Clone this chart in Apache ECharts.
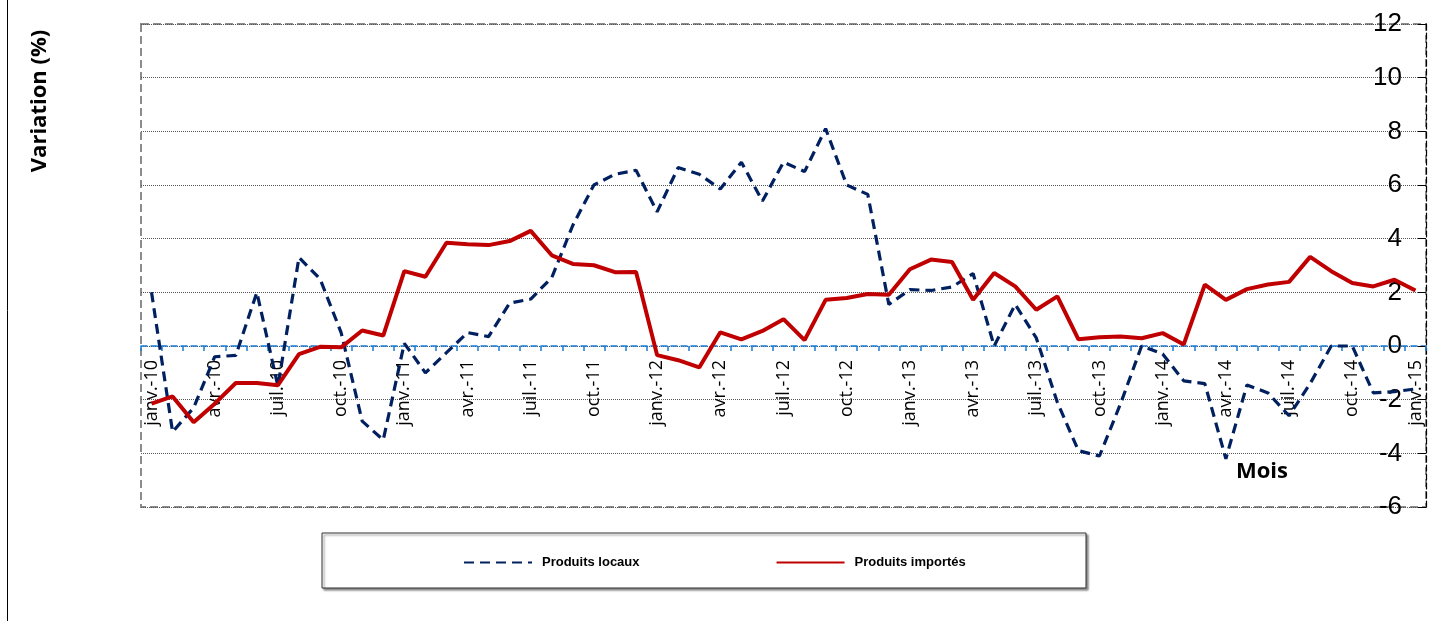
<!DOCTYPE html>
<html>
<head>
<meta charset="utf-8">
<script src="https://cdn.jsdelivr.net/npm/echarts@6/dist/echarts.min.js"></script>
<style>html,body{margin:0;padding:0;background:#fff;}#c{width:1452px;height:621px;}</style>
</head>
<body>
<div id="c"></div>
<script>
const monthAbbr = ['janv.','févr.','mars','avr.','mai','juin','juil.','août','sept.','oct.','nov.','déc.'];
const years = ['10','11','12','13','14','15'];
const categories = [];
years.forEach((y, yi) => monthAbbr.forEach((m, mi) => { if (yi < 5 || mi === 0) categories.push(m + '-' + y); }));

const produitsLocaux = [
  2.0, -3.2, -2.3, -0.4, -0.35, 2.0, -1.5, 3.3, 2.5, 0.5,
  -2.8, -3.5, 0.1, -1.0, -0.25, 0.5, 0.35, 1.6, 1.75, 2.55,
  4.5, 6.0, 6.4, 6.55, 5.0, 6.65, 6.4, 5.85, 6.85, 5.4,
  6.85, 6.5, 8.1, 6.0, 5.65, 1.55, 2.1, 2.07, 2.2, 2.7,
  0.0, 1.55, 0.3, -2.1, -3.9, -4.1, -2.15, 0.0, -0.3, -1.3,
  -1.4, -4.2, -1.45, -1.75, -2.6, -1.4, 0.0, 0.0, -1.75, -1.7, -1.6
];
const produitsImportes = [
  -2.15, -1.88, -2.84, -2.15, -1.38, -1.38, -1.46, -0.3, -0.03, -0.05,
  0.58, 0.39, 2.79, 2.58, 3.85, 3.79, 3.76, 3.91, 4.29, 3.38,
  3.06, 3.01, 2.75, 2.76, -0.34, -0.53, -0.8, 0.51, 0.25, 0.56,
  1.0, 0.22, 1.72, 1.79, 1.94, 1.91, 2.86, 3.22, 3.13, 1.72,
  2.72, 2.22, 1.35, 1.85, 0.25, 0.33, 0.35, 0.29, 0.48, 0.06,
  2.29, 1.72, 2.12, 2.29, 2.39, 3.32, 2.79, 2.35, 2.22, 2.47, 2.07
];
const seriesNames = ['Produits locaux', 'Produits importés'];
const yMin = -6, yMax = 12, yStep = 2;

const G = { left: 141, top: 24, right: 26, bottom: 114 };
const W = 1452, H = 621;
const plotH = H - G.top - G.bottom;
// move the category axis up to the zero line
const zeroOffset = -plotH * (0 - yMin) / (yMax - yMin);

const chart = echarts.init(document.getElementById('c'), null, { renderer: 'canvas' });
chart.setOption({
  animation: false,
  backgroundColor: '#fff',
  grid: { left: G.left, top: G.top, right: G.right, bottom: G.bottom, containLabel: false },
  legend: {
    left: 463, top: 556, padding: 0, itemWidth: 68, itemHeight: 14, itemGap: 136, z: 10,
    itemStyle: { opacity: 0 },
    textStyle: { fontFamily: 'Liberation Sans', fontWeight: 'bold', fontSize: 13, color: '#000', padding: [0, 0, 0, 5] },
    data: seriesNames
  },
  graphic: [
    { type: 'line', z: 0, shape: { x1: 7.5, y1: 0, x2: 7.5, y2: H }, style: { stroke: '#000', lineWidth: 1 } },
    { type: 'rect', z: 0, shape: { x: G.left, y: G.top, width: W - G.left - G.right, height: plotH },
      style: { fill: 'none', stroke: '#8c8c8c', lineWidth: 2, lineDash: [8, 4] } },
    { type: 'rect', z: 1, shape: { x: 322, y: 533, width: 764, height: 55 },
      style: { fill: '#fff', stroke: '#333', lineWidth: 1, shadowColor: 'rgba(0,0,0,0.45)', shadowOffsetX: 2, shadowOffsetY: 2, shadowBlur: 2 } },
    { type: 'text', z: 5, x: 40, y: 101, rotation: Math.PI / 2,
      style: { text: 'Variation (%)', fontFamily: 'Open Sans', fontWeight: 'bold', fontSize: 22, fill: '#000', align: 'center', verticalAlign: 'middle' } },
    { type: 'text', z: 5, x: 1262, y: 472,
      style: { text: 'Mois', fontFamily: 'Open Sans', fontWeight: 'bold', fontSize: 22, fill: '#000', align: 'center', verticalAlign: 'middle' } }
  ],
  xAxis: {
    type: 'category', data: categories, boundaryGap: true, position: 'bottom', offset: zeroOffset,
    axisLine: { onZero: false, lineStyle: { color: '#1a7ad4', type: [6, 4], width: 1.5 } },
    axisTick: { show: true, interval: 0, length: 5, lineStyle: { color: '#1a7ad4', width: 1.5 } },
    axisLabel: { interval: 2, rotate: 90, fontSize: 18, color: '#000', margin: 14, fontFamily: 'Open Sans' },
    splitLine: { show: false }
  },
  yAxis: {
    type: 'value', position: 'right', min: yMin, max: yMax, interval: yStep,
    axisLine: { show: true, lineStyle: { color: '#000', type: [6, 3], width: 1.2 } },
    axisTick: { show: true, inside: true, length: 8, lineStyle: { color: '#000' } },
    axisLabel: { inside: true, fontSize: 26, margin: 24, color: '#000', fontFamily: 'Liberation Sans' },
    splitLine: { show: true, lineStyle: { color: '#555', type: 'dotted', width: 1 } }
  },
  series: [
    { name: seriesNames[0], type: 'line', data: produitsLocaux, symbol: 'none', z: 3,
      lineStyle: { color: '#002060', width: 3.2, type: [10, 6] }, itemStyle: { color: '#002060' } },
    { name: seriesNames[1], type: 'line', data: produitsImportes, symbol: 'none', z: 4,
      lineStyle: { color: '#C00000', width: 4 }, itemStyle: { color: '#C00000' } }
  ]
});
</script>
</body>
</html>
